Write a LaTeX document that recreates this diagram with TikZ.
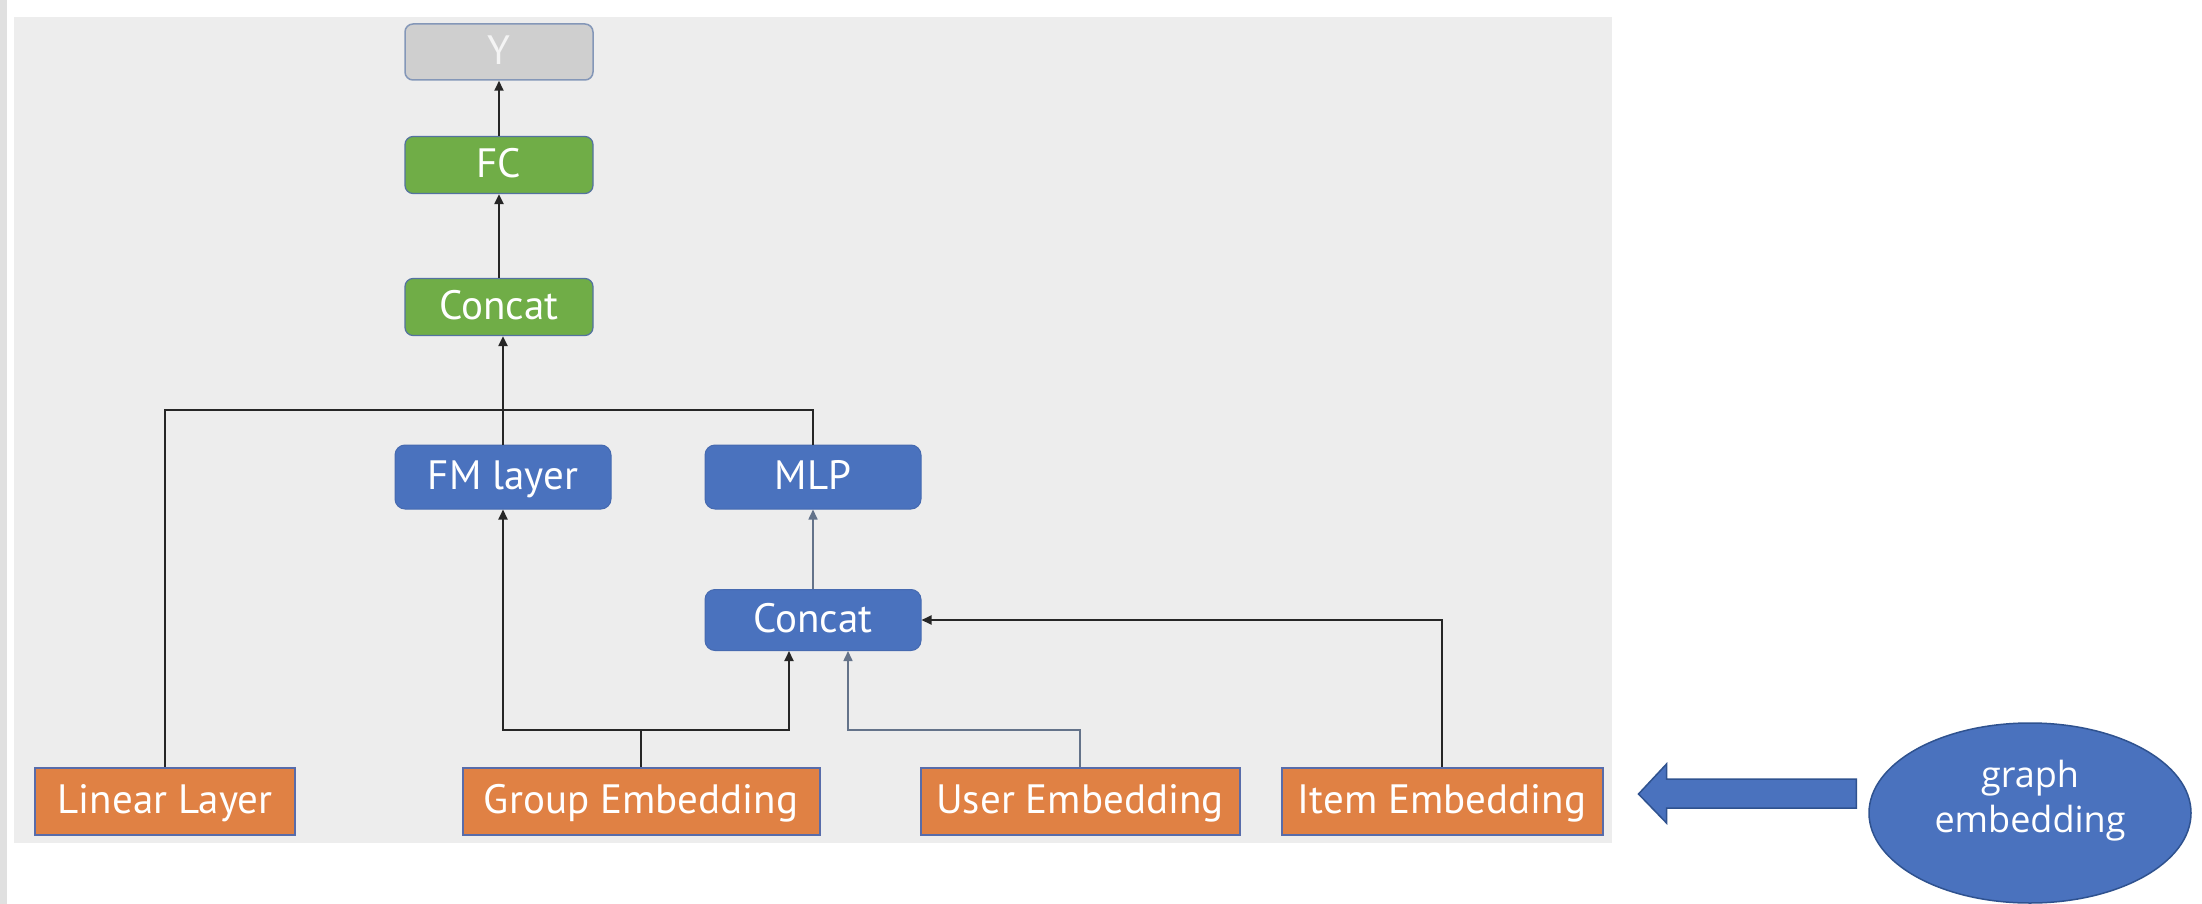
\documentclass[tikz,border=0pt]{standalone}
\usepackage{fontspec}
\setmainfont{PT Sans}
\newfontfamily\gfont{Open Sans}
\usetikzlibrary{arrows.meta,shapes.geometric,calc}
\definecolor{panel}{RGB}{237,237,237}
\definecolor{strip}{RGB}{224,224,224}
\definecolor{yfill}{RGB}{207,207,207}
\definecolor{ybord}{RGB}{132,151,184}
\definecolor{ytext}{RGB}{244,244,244}
\definecolor{gfill}{RGB}{112,173,71}
\definecolor{gbord}{RGB}{84,114,160}
\definecolor{bfill}{RGB}{74,114,190}
\definecolor{bbord}{RGB}{70,106,176}
\definecolor{ofill}{RGB}{224,129,68}
\definecolor{obord}{RGB}{88,108,170}
\definecolor{lk}{RGB}{38,38,38}
\definecolor{lg}{RGB}{100,115,138}
\definecolor{edark}{RGB}{47,82,143}
\begin{document}
\begin{tikzpicture}[x=1pt,y=-1pt,
  box/.style={inner sep=0pt, text=white, font=\fontsize{41}{48}\selectfont,
    text height=29pt, text depth=4pt, align=center},
  ybox/.style={box, draw=ybord, fill=yfill, rounded corners=8pt, line width=1.5pt,
    minimum width=188pt, minimum height=56pt, text=ytext},
  gbox/.style={box, draw=gbord, fill=gfill, rounded corners=8pt, line width=1.2pt,
    minimum width=188pt, minimum height=57pt},
  bbox/.style={box, draw=bbord, fill=bfill, rounded corners=10pt, line width=1pt,
    minimum width=216pt, minimum height=64pt},
  obox/.style={box, draw=obord, fill=ofill, line width=2pt, minimum height=67pt},
  ln/.style={line width=2pt, draw=lk},
  arr/.style={ln, -{Triangle[length=10pt,width=9pt]}},
  garr/.style={line width=1.6pt, draw=lg, -{Triangle[length=10pt,width=9pt]}},
  gtext/.style={inner sep=0pt, text=white, align=center,
    font=\gfont\fontsize{36}{45}\selectfont}]
\useasboundingbox (0,0) rectangle (2202,904);
\fill[white] (0,0) rectangle (2202,904);
\fill[strip] (0,0) rectangle (7,904);
\fill[panel] (14,17) rectangle (1612,843);

\node[ybox] (y)  at (499,52)  {Y};
\node[gbox] (fc) at (499,165) {FC};
\node[gbox] (cg) at (499,307) {Concat};
\node[bbox] (fm) at (503,477) {FM layer};
\node[bbox] (mlp) at (813,477) {MLP};
\node[bbox, minimum height=61pt] (cb) at (813,620) {Concat};
\node[obox, minimum width=260pt] (lin) at (165,801) {Linear Layer};
\node[obox, minimum width=357pt] (grp) at (641,801) {Group Embedding};
\node[obox, minimum width=319pt] (usr) at (1080,801) {User Embedding};
\node[obox, minimum width=321pt] (itm) at (1442,801) {Item Embedding};

\node[ellipse, fill=bfill, draw=edark, line width=1.5pt, minimum width=322pt,
  minimum height=180pt, inner sep=0pt] (ge) at (2030,813) {};
\node[gtext] (get) at ($(ge.center)+(0,-12)$) {graph\\embedding};

\coordinate (hy) at (0,410);
\coordinate (gy) at (0,730);

\draw[arr] (fc.north) -- (y.south);
\draw[arr] (cg.north) -- (fc.south);
\draw[arr] (fm.north) -- (fm.north |- cg.south);
\draw[ln] (lin.north) -- (lin.north |- hy) -- (mlp.north |- hy) -- (mlp.north);
\draw[arr] (grp.north) -- (grp.north |- gy) -| (fm.south);
\draw[arr] (grp.north |- gy) -| ($(cb.south)+(-24,0)$);
\draw[garr] (usr.north) -- (usr.north |- gy) -| ($(cb.south)+(35,0)$);
\draw[arr] (itm.north) |- (cb.east);
\draw[garr] (cb.north) -- (mlp.south);

\draw[fill=bfill, draw=edark, line width=1.5pt, line join=miter]
  ($(itm.east)+(35,-7)$) -- ++(28,-30) -- ++(0,15) -- ($(ge.west)+(-12,-34)$)
  -- ++(0,29) -- ($(itm.east)+(63,7)$) -- ++(0,15) -- cycle;
\end{tikzpicture}
\end{document}
